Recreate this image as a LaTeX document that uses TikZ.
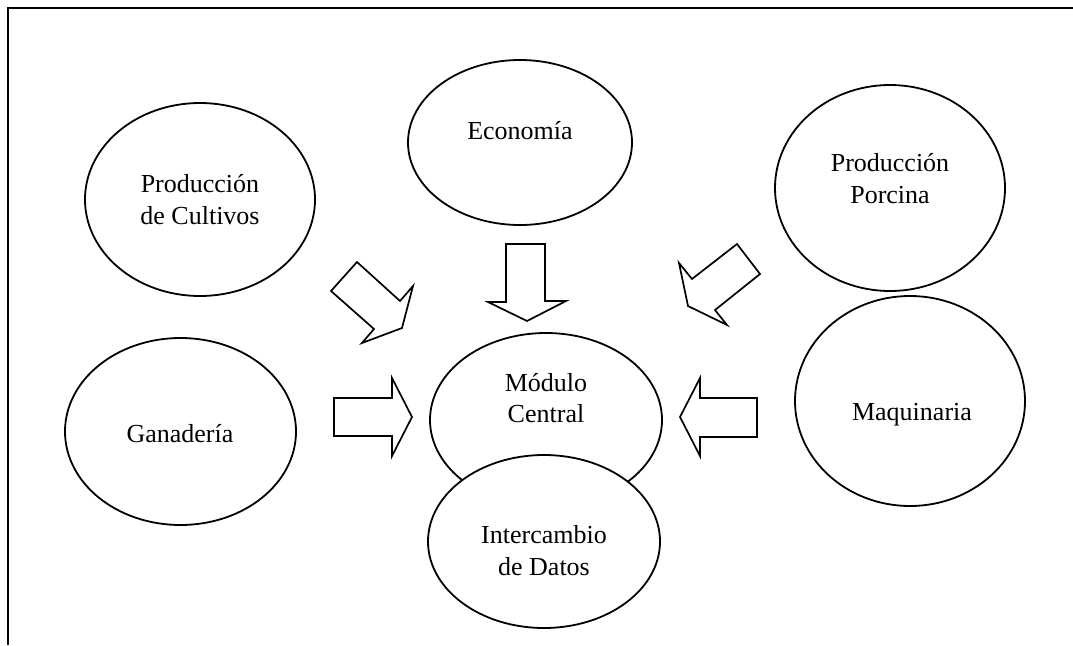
\documentclass[tikz,border=0pt]{standalone}
\usepackage{fontspec}
\setmainfont{Liberation Serif}
\usetikzlibrary{shapes.geometric}
\begin{document}
\begin{tikzpicture}[x=1pt,y=-1pt,
  bubble/.style={ellipse,draw=black,line width=1.8pt,fill=white,inner sep=0pt},
  lbl/.style={anchor=base,inner sep=0pt,font=\fontsize{26}{31}\selectfont},
  blockarrow/.style={draw=black,line width=1.7pt,fill=white,line join=miter}]
\useasboundingbox (0,0) rectangle (1073,645);
% frame
\coordinate (f1) at (7.5,645);
\coordinate (f2) at (7.5,7.5);
\coordinate (f3) at (1073,7.5);
\draw[line width=2pt] (f1) -- (f2) -- (f3);
% ellipses
\node[bubble,minimum width=230pt,minimum height=193pt] (cult) at (200,199.5) {};
\node[bubble,minimum width=224pt,minimum height=165pt] (econ) at (520,142.5) {};
\node[bubble,minimum width=230pt,minimum height=206pt] (porc) at (890,188) {};
\node[bubble,minimum width=231pt,minimum height=187pt] (gan) at (180.5,431.5) {};
\node[bubble,minimum width=230pt,minimum height=210pt] (maq) at (910,401) {};
\node[bubble,minimum width=232pt,minimum height=174pt] (mod) at (546,420) {};
\node[bubble,minimum width=232pt,minimum height=173pt] (inter) at (544,541.5) {};
% labels
\node[lbl] (cultA) at (200,192) {Producción};
\node[lbl] (cultB) at (200,224) {de Cultivos};
\node[lbl] (econA) at (520,139) {Economía};
\node[lbl] (porcA) at (890,171) {Producción};
\node[lbl] (porcB) at (890,203) {Porcina};
\node[lbl] (ganA) at (180,442) {Ganadería};
\node[lbl] (maqA) at (912,420) {Maquinaria};
\node[lbl] (modA) at (546,391) {Módulo};
\node[lbl] (modB) at (546,422) {Central};
\node[lbl] (interA) at (544,543) {Intercambio};
\node[lbl] (interB) at (544,575) {de Datos};
% block arrows
\draw[blockarrow] (357,262) -- (400,301) -- (413,286) -- (402,328) -- (362,343) -- (374,329) -- (331,291) -- cycle;
\draw[blockarrow] (506,244) -- (545,244) -- (545,301) -- (566,301) -- (527,321) -- (488,302) -- (506,302) -- cycle;
\draw[blockarrow] (737,244) -- (760,274) -- (715,310) -- (727,325) -- (688,306) -- (679,263) -- (692,279) -- cycle;
\draw[blockarrow] (334,398) -- (392,398) -- (392,378) -- (412,417) -- (392,456) -- (392,436) -- (334,436) -- cycle;
\draw[blockarrow] (757,398) -- (700,398) -- (700,378) -- (680,417) -- (700,456) -- (700,437) -- (757,437) -- cycle;
\end{tikzpicture}
\end{document}
